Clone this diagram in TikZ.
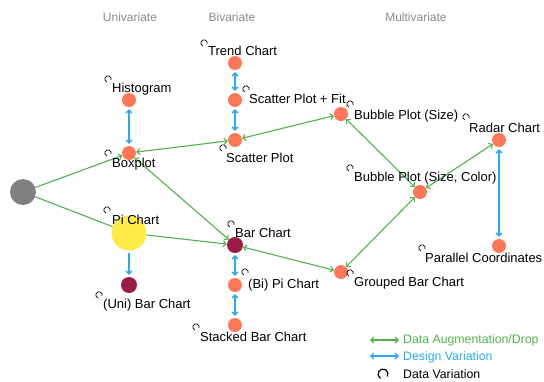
\documentclass[tikz,border=0pt]{standalone}
\usepackage{fontspec}
\setmainfont{Liberation Sans}
\usetikzlibrary{arrows.meta}
\definecolor{corange}{HTML}{FC7856}
\definecolor{cyellow}{HTML}{FFEB46}
\definecolor{cred}{HTML}{9E1B45}
\definecolor{cgray}{HTML}{808080}
\definecolor{cgreen}{HTML}{52B04F}
\definecolor{cblue}{HTML}{2AABF0}
\definecolor{chead}{HTML}{8A8A8A}
\begin{document}
\begin{tikzpicture}[x=1pt,y=-1pt,
  >={Straight Barb[length=3pt,width=6pt]},
  dot/.style={circle,inner sep=0pt,minimum size=14pt,fill=corange},
  lbl/.style={anchor=base west,inner sep=0pt,font=\fontsize{13}{15}\selectfont},
  hdr/.style={inner sep=0pt,text=chead,font=\fontsize{12}{14}\selectfont},
  leg/.style={anchor=west,inner sep=0pt,font=\fontsize{12.3}{14}\selectfont},
  aug/.style={draw=cgreen,line width=1.1pt,<->},
  des/.style={draw=cblue,line width=1.4pt,<->,shorten >=2pt,shorten <=2pt},
  dv/.pic={\draw[line width=0.7pt] (-20:3.2pt) arc (-20:250:3.2pt);},
  dvbig/.pic={\draw[line width=1.2pt] (-30:5pt) arc (-30:240:5pt);}
]
\path[use as bounding box] (0,0) rectangle (544,381);

% headers
\node[hdr] (h1) at (130,17) {Univariate};
\node[hdr] (h2) at (232,17) {Bivariate};
\node[hdr] (h3) at (416,17) {Multivariate};

% nodes
\node[dot,fill=cgray,minimum size=26pt] (root) at (23,192) {};
\node[dot] (box) at (129,153) {};
\node[dot] (hist) at (129,100) {};
\node[dot,fill=cyellow,minimum size=35pt] (pi) at (129,233) {};
\node[dot,fill=cred,minimum size=16pt] (unibar) at (129,285) {};
\node[dot] (trend) at (235,63) {};
\node[dot] (fit) at (235,100) {};
\node[dot] (scatter) at (235,140) {};
\node[dot,fill=cred,minimum size=16pt] (bar) at (235,245) {};
\node[dot] (bipi) at (235,285) {};
\node[dot] (stacked) at (235,325) {};
\node[dot] (bsize) at (341,114) {};
\node[dot] (bcolor) at (420,192) {};
\node[dot] (radar) at (499,140) {};
\node[dot] (par) at (499,246) {};
\node[dot] (grouped) at (341,272) {};

% green edges
\draw[aug,<-] (box) -- (root);
\draw[draw=cgreen,line width=1.1pt] (root) -- (pi);
\draw[aug,->] (pi) -- (bar);
\draw[aug] (box) -- (bar);
\draw[aug] (box) -- (scatter);
\draw[aug] (scatter) -- (bsize);
\draw[aug] (bsize) -- (bcolor);
\draw[aug] (bcolor) -- (radar);
\draw[aug] (bcolor) -- (grouped);
\draw[aug] (bar) -- (grouped);

% blue edges
\draw[des] (hist) -- (box);
\draw[des] (trend) -- (fit);
\draw[des] (fit) -- (scatter);
\draw[des,->] (pi) -- (unibar);
\draw[des] (radar) -- (par);
\draw[des] (bar) -- (bipi);
\draw[des] (bipi) -- (stacked);

% labels
\node[lbl] (lhist) at (112,92) {Histogram};
\pic at (108,79) {dv};
\node[lbl] (ltrend) at (208,55) {Trend Chart};
\pic at (204,43) {dv};
\node[lbl] (lfit) at (249,103) {Scatter Plot + Fit};
\pic at (246,89) {dv};
\node[lbl] (lscatter) at (226,162) {Scatter Plot};
\pic at (223,148) {dv};
\node[lbl] (lbox) at (112,167) {Boxplot};
\pic at (108,153) {dv};
\node[lbl] (lbsize) at (354,119) {Bubble Plot (Size)};
\pic at (350,104) {dv};
\node[lbl] (lradar) at (469,132) {Radar Chart};
\pic at (466,117) {dv};
\node[lbl] (lbcolor) at (354,181) {Bubble Plot (Size, Color)};
\pic at (350,168) {dv};
\node[lbl] (lpi) at (112,224) {Pi Chart};
\pic at (107,210) {dv};
\node[lbl] (lbar) at (235,237) {Bar Chart};
\pic at (231,224) {dv};
\node[lbl] (lbipi) at (248,288) {(Bi) Pi Chart};
\pic at (245,272) {dv};
\node[lbl] (lgrouped) at (354,286) {Grouped Bar Chart};
\pic at (350,273) {dv};
\node[lbl] (lpar) at (425,262) {Parallel Coordinates};
\pic at (422,248) {dv};
\node[lbl] (lunibar) at (103,308) {(Uni) Bar Chart};
\pic at (99,295) {dv};
\node[lbl] (lstacked) at (200,341) {Stacked Bar Chart};
\pic at (196,327) {dv};

% legend
\coordinate (g1) at (370,340);
\coordinate (g2) at (399,340);
\draw[aug] (g1) -- (g2);
\node[leg,text=cgreen] (lg1) at (403,340) {Data Augmentation/Drop};
\coordinate (b1) at (370,356);
\coordinate (b2) at (399,356);
\draw[draw=cblue,line width=1.4pt,<->] (b1) -- (b2);
\node[leg,text=cblue] (lg2) at (403,357) {Design Variation};
\pic at (383,374) {dvbig};
\node[leg] (lg3) at (403,374) {Data Variation};
\end{tikzpicture}
\end{document}
